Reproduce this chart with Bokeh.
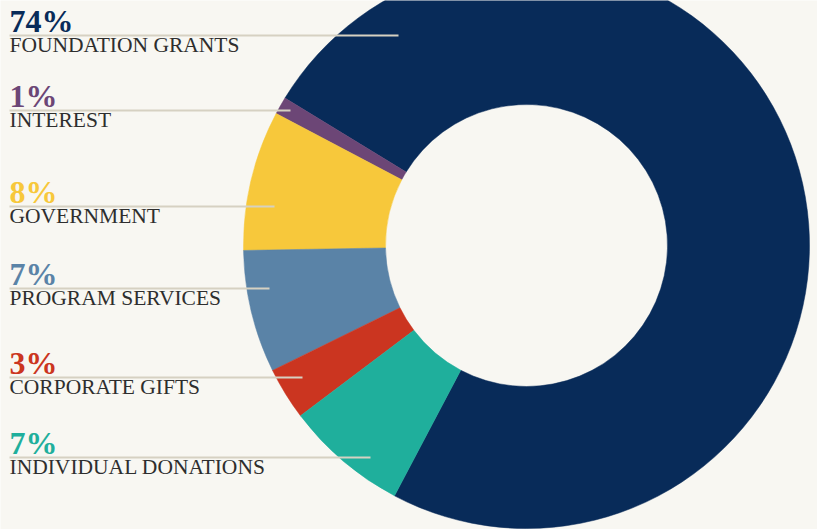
import numpy as np
from bokeh.plotting import figure
from bokeh.models import Range1d, ColumnDataSource
from bokeh.embed import file_html
from bokeh.resources import INLINE
from bokeh.core.properties import value

# ---- data ----
categories = ["FOUNDATION GRANTS", "INTEREST", "GOVERNMENT",
              "PROGRAM SERVICES", "CORPORATE GIFTS", "INDIVIDUAL DONATIONS"]
shares = [74, 1, 8, 7, 3, 7]
pct_labels = ["74%", "1%", "8%", "7%", "3%", "7%"]
colors = ["#082b59", "#6c4676", "#f7c83b", "#5a83a7", "#cb3520", "#1faf9c"]

# ---- layout (screen pixel coordinates) ----
W, H = 817, 529
cx, cy = 526, 245
r_out, r_in = 283, 141
start_deg = -117.8
leader_y = [35, 110, 206, 288, 377, 457]
leader_end_x = [398, 290, 274, 269, 302, 370]
text_x = 9

def Y(y):
    return H - np.asarray(y, dtype=float)

p = figure(width=W, height=H, output_backend="svg",
           toolbar_location=None, x_range=Range1d(0, W),
           y_range=Range1d(0, H), min_border=0)
p.axis.visible = False
p.grid.visible = False
p.outline_line_color = None
p.background_fill_color = "#f8f7f2"
p.border_fill_color = "#f8f7f2"

vals = np.array(shares, dtype=float)
frac = vals / vals.sum()
cum = np.concatenate([[0], np.cumsum(frac)])
starts = np.deg2rad(start_deg) + cum[:-1] * 2 * np.pi
ends = np.deg2rad(start_deg) + cum[1:] * 2 * np.pi

src = ColumnDataSource(dict(start=starts, end=ends, color=colors,
                            cat=categories))
p.annular_wedge(x=cx, y=Y(cy), inner_radius=r_in, outer_radius=r_out,
                start_angle="start", end_angle="end", direction="anticlock",
                fill_color="color", line_color="color", line_width=0.5,
                source=src)

# leader lines
for ly, ex in zip(leader_y, leader_end_x):
    p.line(x=[text_x, ex], y=[Y(ly), Y(ly)], line_color="#d6d1c2",
           line_width=2)

ly = np.array(leader_y, dtype=float)
p.text(x=[text_x] * len(pct_labels), y=Y(ly - 15), text=pct_labels,
       text_color=colors, text_font=value("Liberation Serif"),
       text_font_size="32px", text_font_style="bold",
       text_baseline="alphabetic", text_align="left")
p.text(x=[text_x] * len(categories), y=Y(ly + 9), text=categories,
       text_color="#2e2e2e", text_font=value("Liberation Serif"),
       text_font_size="21.5px", text_baseline="alphabetic", text_align="left")

open("out.html", "w").write(file_html(p, INLINE))
